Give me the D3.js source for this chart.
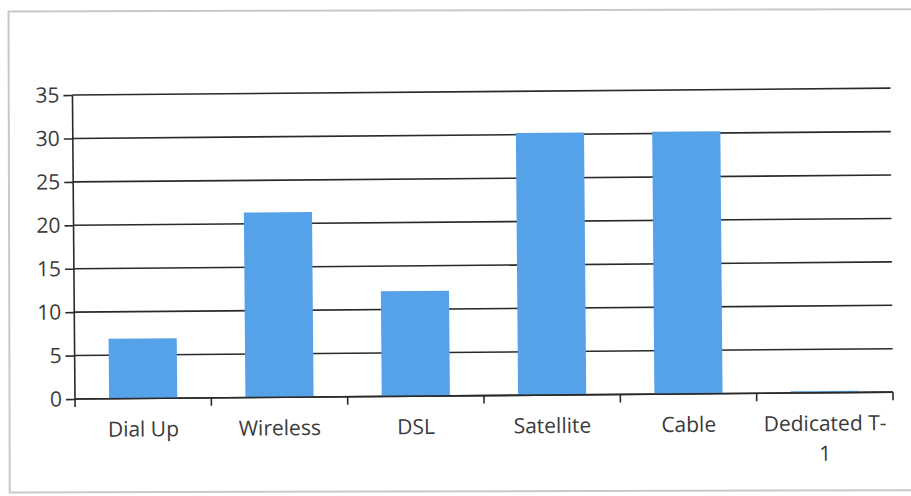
<!DOCTYPE html>
<head>
    <script src="https://d3js.org/d3.v7.min.js" charset="utf-8"></script>
    <style>
        body { margin: 0; background: #fff; }
        .axis text { font-family: "Open Sans", sans-serif; fill: #3a3a3a; }
    </style>
</head>
<body>
    <div id="container"></div>

    <script>
    var categories = ["Dial Up", "Wireless", "DSL", "Satellite", "Cable", "Dedicated T-1"];
    var values = [6.9, 21.3, 12.1, 30.2, 30.2, 0.2];
    var yTicks = [0, 5, 10, 15, 20, 25, 30, 35];

    var width = 911, height = 496;
    var margin = {left: 75, top: 95, right: 18, bottom: 97};
    var w = width - margin.left - margin.right;
    var h = height - margin.top - margin.bottom;

    var svg = d3.select("#container")
        .append("svg")
        .attr("width", width)
        .attr("height", height);

    // scanned frame
    svg.append("rect")
        .attr("x", 8.5).attr("y", 11.5)
        .attr("width", 930).attr("height", 481)
        .attr("fill", "none")
        .attr("stroke", "#c8c8c8")
        .attr("stroke-width", 2)
        .attr("transform", "rotate(-0.15, 8, 10)");

    var g = svg.append("g")
        .attr("transform", "translate(" + margin.left + "," + margin.top + ") rotate(-0.48, 0, " + h + ")");

    var x = d3.scaleBand()
        .domain(categories)
        .range([0, w])
        .paddingInner(0.5)
        .paddingOuter(0.25);

    var y = d3.scaleLinear()
        .domain([0, 35])
        .range([h, 0]);

    // gridlines
    g.append("g")
        .selectAll("line")
        .data(yTicks)
        .enter()
        .append("line")
        .attr("x1", 0)
        .attr("x2", w)
        .attr("y1", function (d) { return y(d); })
        .attr("y2", function (d) { return y(d); })
        .attr("stroke", "#2a2a2a")
        .attr("stroke-width", 1.6);

    // bars
    g.append("g")
        .selectAll("rect")
        .data(values)
        .enter()
        .append("rect")
        .attr("x", function (d, i) { return x(categories[i]); })
        .attr("y", function (d) { return y(d); })
        .attr("width", x.bandwidth())
        .attr("height", function (d) { return h - y(d); })
        .attr("fill", "#56a2e8");

    // y axis
    var yAxis = g.append("g")
        .attr("class", "axis")
        .call(d3.axisLeft(y).tickValues(yTicks).tickSize(9).tickPadding(4));
    yAxis.selectAll("line, path").attr("stroke", "#2a2a2a").attr("stroke-width", 1.6);
    yAxis.select(".domain").attr("d", "M0,0V" + h);
    yAxis.selectAll("text").style("font-size", "21px");

    // x axis with ticks at band boundaries
    var xAxis = g.append("g")
        .attr("class", "axis")
        .attr("transform", "translate(0," + h + ")");
    xAxis.append("line")
        .attr("x1", 0).attr("x2", w)
        .attr("stroke", "#2a2a2a").attr("stroke-width", 1.6);
    var step = x.step();
    var bounds = d3.range(categories.length + 1).map(function (i) { return i * step; });
    xAxis.selectAll(".xtick")
        .data(bounds)
        .enter()
        .append("line")
        .attr("class", "xtick")
        .attr("x1", function (d) { return d; })
        .attr("x2", function (d) { return d; })
        .attr("y1", 0).attr("y2", 8)
        .attr("stroke", "#2a2a2a").attr("stroke-width", 1.6);

    var labels = xAxis.selectAll(".xlabel")
        .data(categories)
        .enter()
        .append("text")
        .attr("class", "xlabel")
        .attr("text-anchor", "middle")
        .style("font-size", "21px")
        .attr("x", function (d) { return x(d) + x.bandwidth() / 2; })
        .attr("y", 38);

    labels.each(function (d) {
        var parts = d === "Dedicated T-1" ? ["Dedicated T-", "1"] : [d];
        var t = d3.select(this);
        parts.forEach(function (p, i) {
            t.append("tspan")
                .attr("x", t.attr("x"))
                .attr("dy", i === 0 ? 0 : 30)
                .text(p);
        });
    });
    </script>
</body>
